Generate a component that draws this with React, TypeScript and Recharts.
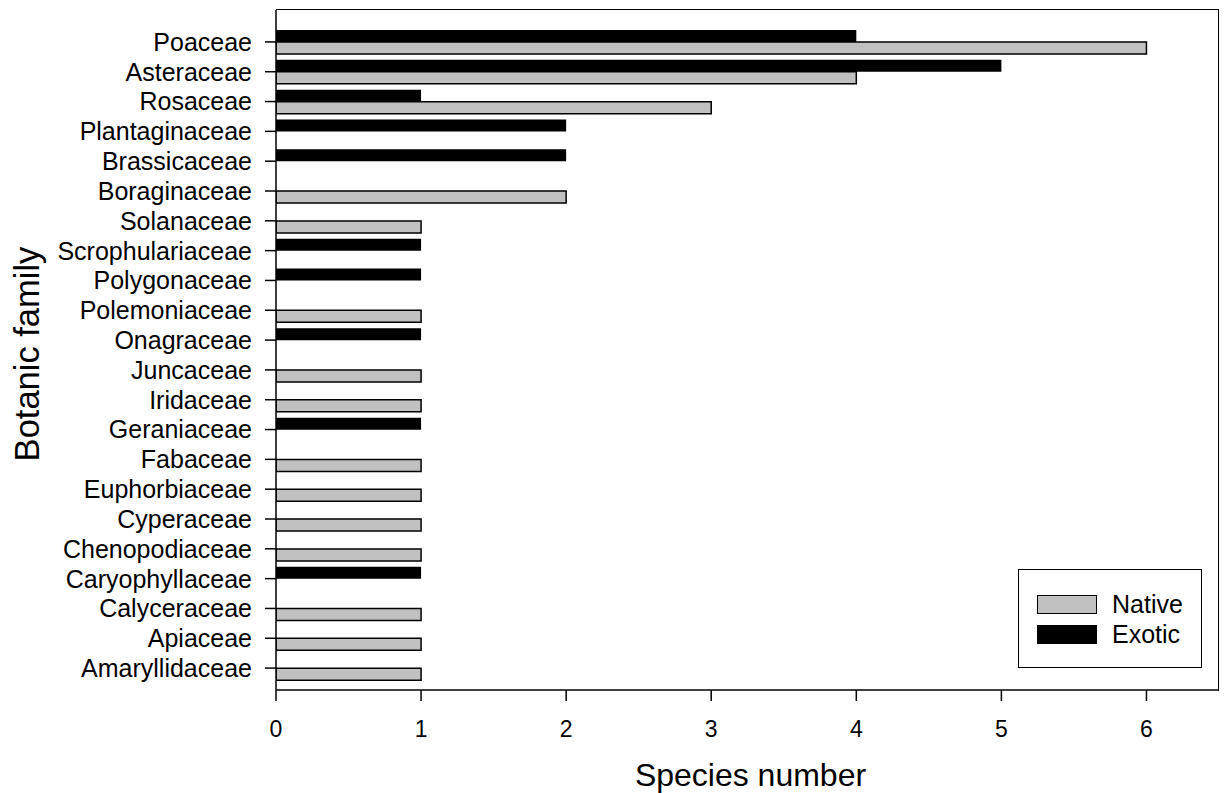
import { BarChart, Bar, XAxis, YAxis } from "recharts";

// families, top to bottom as in the figure
const families = [
  "Poaceae",
  "Asteraceae",
  "Rosaceae",
  "Plantaginaceae",
  "Brassicaceae",
  "Boraginaceae",
  "Solanaceae",
  "Scrophulariaceae",
  "Polygonaceae",
  "Polemoniaceae",
  "Onagraceae",
  "Juncaceae",
  "Iridaceae",
  "Geraniaceae",
  "Fabaceae",
  "Euphorbiaceae",
  "Cyperaceae",
  "Chenopodiaceae",
  "Caryophyllaceae",
  "Calyceraceae",
  "Apiaceae",
  "Amaryllidaceae",
];

const nativeCounts = [6, 4, 3, 0, 0, 2, 1, 0, 0, 1, 0, 1, 1, 0, 1, 1, 1, 1, 0, 1, 1, 1];
const exoticCounts = [4, 5, 1, 2, 2, 0, 0, 1, 1, 0, 1, 0, 0, 1, 0, 0, 0, 0, 1, 0, 0, 0];

const xTicks = [0, 1, 2, 3, 4, 5, 6];

const chartData = families.map((name, i) => ({
  name,
  native: nativeCounts[i],
  exotic: exoticCounts[i],
}));

const FONT = "'Liberation Sans', Arial, sans-serif";
const GRAY = "#c0c0c0";

function App() {
  return (
    <div style={{ position: "absolute", left: 0, top: 0, width: 1224, height: 793, background: "#fff", fontFamily: FONT }}>
      <BarChart
        width={1224}
        height={793}
        data={chartData}
        layout="vertical"
        margin={{ top: 10, right: 5, bottom: 0, left: 0 }}
        barSize={12}
        barGap={0}
      >
        <XAxis
          type="number"
          domain={[0, 6.5]}
          ticks={xTicks}
          allowDataOverflow
          height={103}
          tickSize={11}
          tickMargin={20}
          stroke="#000"
          strokeWidth={1.5}
          tick={{ fill: "#000", fontSize: 23, fontFamily: FONT }}
          label={{
            content: (props: any) => {
              const vb = props.viewBox || {};
              return (
                <text
                  x={vb.x + vb.width / 2 + 3}
                  y={vb.y + 85}
                  textAnchor="middle"
                  dominantBaseline="central"
                  fontSize={32}
                  fontFamily={FONT}
                  fill="#000"
                >
                  Species number
                </text>
              );
            },
          }}
        />
        <YAxis
          type="category"
          dataKey="name"
          width={276}
          interval={0}
          padding={{ top: 17, bottom: 7 }}
          tickSize={11}
          tickMargin={13}
          stroke="#000"
          strokeWidth={1.5}
          tick={{ fill: "#000", fontSize: 25, fontFamily: FONT }}
          label={{
            content: (props: any) => {
              const vb = props.viewBox || {};
              const cy = vb.y + vb.height / 2 + 4;
              return (
                <text
                  x={27}
                  y={cy}
                  transform={`rotate(-90 27 ${cy})`}
                  textAnchor="middle"
                  dominantBaseline="central"
                  fontSize={34.5}
                  fontFamily={FONT}
                  fill="#000"
                >
                  Botanic family
                </text>
              );
            },
          }}
        />
        <Bar dataKey="exotic" name="Exotic" fill="#000" isAnimationActive={false} />
        <Bar dataKey="native" name="Native" fill={GRAY} stroke="#000" strokeWidth={1.5} isAnimationActive={false} />
      </BarChart>

      {/* top and right edges of the plot frame */}
      <div
        style={{
          position: "absolute",
          left: 276,
          top: 9,
          width: 942,
          height: 681,
          borderTop: "1.5px solid #000",
          borderRight: "1.5px solid #000",
          pointerEvents: "none",
        }}
      />

      {/* legend box, bottom right inside the plot */}
      <div
        style={{
          position: "absolute",
          left: 1018,
          top: 569,
          width: 182,
          height: 97,
          border: "1.5px solid #000",
          background: "#fff",
          fontFamily: FONT,
          fontSize: 25,
        }}
      >
        {[
          { label: "Native", color: GRAY },
          { label: "Exotic", color: "#000" },
        ].map((item, i) => (
          <div
            key={item.label}
            style={{ position: "absolute", left: 18, top: 24 + i * 30, display: "flex", alignItems: "center", height: 20 }}
          >
            <div style={{ width: 58, height: 17, background: item.color, border: "1.5px solid #000" }} />
            <span style={{ marginLeft: 15, lineHeight: "20px" }}>{item.label}</span>
          </div>
        ))}
      </div>
    </div>
  );
}

export default App;
